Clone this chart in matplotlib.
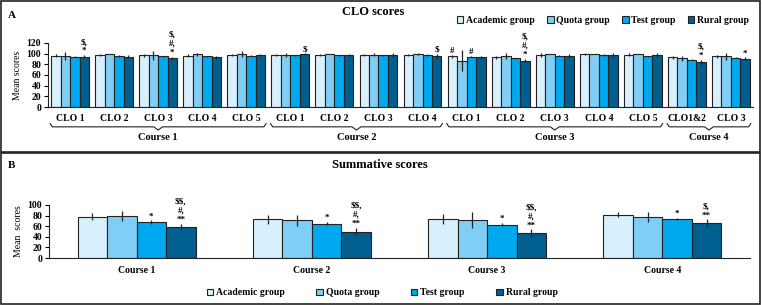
import numpy as np
import matplotlib.pyplot as plt
from matplotlib.patches import Rectangle
from matplotlib.transforms import blended_transform_factory

plt.rcParams['font.family'] = 'Liberation Serif'
plt.rcParams['font.weight'] = 'bold'
plt.rcParams['text.parse_math'] = False

groups = ['Academic group', 'Quota group', 'Test group', 'Rural group']
colors = ['#d8effd', '#80cdf5', '#00a8ef', '#005f8e']

# panel A: CLO scores
clo_labels = ['CLO 1', 'CLO 2', 'CLO 3', 'CLO 4', 'CLO 5',
              'CLO 1', 'CLO 2', 'CLO 3', 'CLO 4',
              'CLO 1', 'CLO 2', 'CLO 3', 'CLO 4', 'CLO 5',
              'CLO1&2', 'CLO 3']
courses_a = ['Course 1', 'Course 2', 'Course 3', 'Course 4']
course_sizes = [5, 4, 5, 2]
clo_academic = [96, 98, 97, 96, 97, 97, 98, 98, 98, 95, 93, 97.5, 99, 98, 93, 95]
clo_quota = [96, 100, 97, 99, 99, 98, 100, 98, 99, 87, 96, 100, 100, 100, 91, 95]
clo_test = [94, 95, 95, 95, 96, 97, 97, 97, 97.5, 94, 91, 96, 97.5, 95.5, 89, 92]
clo_rural = [94, 94, 91, 93, 97, 99, 97, 97, 95, 93, 87, 96, 97.5, 97.5, 84, 90]
clo_academic_err = [3, 2, 3, 3, 2, 2, 2, 2, 2, 3, 3, 3, 2, 3, 3, 3]
clo_quota_err = [7, 0, 8, 3, 6, 4, 0, 3, 2, 20, 6, 0, 0, 0, 5, 7]
clo_test_err = [1, 2, 1, 1, 1, 1, 1, 1, 1, 1, 1, 1, 1, 1, 1, 1]
clo_rural_err = [3, 3, 3, 3, 2, 2, 2, 4, 5, 3, 3, 4, 3, 3, 5, 3]
# (group index, series index, text)
clo_notes = [(0, 3, '$,\n*'), (2, 3, '$,\n#,\n*'), (5, 3, '$'), (8, 3, '$'),
             (9, 0, '#'), (9, 2, '#'), (10, 3, '$,\n#,\n*'),
             (14, 3, '$,\n*'), (15, 3, '*')]

# panel B: summative scores
courses_b = ['Course 1', 'Course 2', 'Course 3', 'Course 4']
sum_academic = [78, 73, 74, 82]
sum_quota = [79, 71, 71, 77]
sum_test = [68, 65, 63, 73]
sum_rural = [59, 50, 47, 66]
sum_academic_err = [6, 8, 9, 5]
sum_quota_err = [10, 11, 15, 9]
sum_test_err = [3, 3, 3, 2]
sum_rural_err = [6, 7, 7, 7]
sum_notes = [(0, 2, '*'), (1, 2, '*'), (2, 2, '*'), (3, 2, '*'),
             (0, 3, '$$,\n#,\n**'), (1, 3, '$$,\n#,\n**'), (2, 3, '$$,\n#,\n**'),
             (3, 3, '$,\n**')]

W, H = 762, 305
fig = plt.figure(figsize=(W / 100, H / 100), dpi=100)


def px(x0, y0, x1, y1):
    return [x0 / W, 1 - y1 / H, (x1 - x0) / W, (y1 - y0) / H]


def draw_bars(ax, values, errors, width, notes, note_size):
    n = len(values[0])
    x = np.arange(n)
    tops = []
    for k in range(4):
        pos = x + (k - 1.5) * width
        ax.bar(pos, values[k], width, color=colors[k], edgecolor='#222222',
               linewidth=0.8, label=groups[k], zorder=2)
        ax.errorbar(pos, values[k], yerr=errors[k], fmt='none', ecolor='#222222',
                    elinewidth=0.9, capsize=0, zorder=3)
        tops.append(np.array(values[k]) + np.array(errors[k]))
    for g, s, txt in notes:
        ax.text(g + (s - 1.5) * width, tops[s][g], txt, ha='center', va='bottom',
                fontsize=note_size, linespacing=1.2, clip_on=False)
    return x


def style_axis(ax, ylim, step):
    ax.set_ylim(0, ylim)
    ax.set_yticks(np.arange(0, ylim + 1, step))
    for s in ['top', 'right']:
        ax.spines[s].set_visible(False)
    ax.spines['left'].set_color('#222222')
    ax.spines['bottom'].set_color('#222222')
    ax.tick_params(axis='y', labelsize=7, length=3, width=0.8, pad=2)
    ax.tick_params(axis='x', length=0, labelsize=7, pad=6)


# frames
fig.patches.append(Rectangle((1 / W, 1 - 152 / H), 759 / W, 151 / H, transform=fig.transFigure,
                             fill=False, edgecolor='#222222', linewidth=1.2))
fig.patches.append(Rectangle((1 / W, 1 / H), 759 / W, 151 / H, transform=fig.transFigure,
                             fill=False, edgecolor='#222222', linewidth=1.2))

# ---- panel A
axA = fig.add_axes(px(48, 43, 753, 107))
xa = draw_bars(axA, [clo_academic, clo_quota, clo_test, clo_rural],
               [clo_academic_err, clo_quota_err, clo_test_err, clo_rural_err],
               0.215, clo_notes, 6.5)
style_axis(axA, 120, 20)
axA.tick_params(axis='x', pad=5)
axA.set_xlim(-0.5, len(clo_labels) - 0.5)
axA.set_xticks(xa)
axA.set_xticklabels(clo_labels)
axA.set_ylabel('Mean scores', fontsize=7, labelpad=3)
axA.legend(loc='lower right', bbox_to_anchor=(1.0, 1.22), ncol=4, frameon=False,
           fontsize=7, handlelength=0.7, handleheight=0.7, handletextpad=0.3,
           columnspacing=1.2, borderaxespad=0)

# course braces
tr = blended_transform_factory(axA.transData, axA.transAxes)
start = 0
for name, size in zip(courses_a, course_sizes):
    x0, x1 = start - 0.45, start + size - 1 + 0.45
    xm = (x0 + x1) / 2
    yb = -0.31
    axA.plot([x0, x0 + 0.05, xm - 0.1, xm, xm + 0.1, x1 - 0.05, x1],
             [yb + 0.05, yb, yb, yb - 0.05, yb, yb, yb + 0.05],
             color='#222222', lw=0.8, transform=tr, clip_on=False)
    axA.text(xm, -0.40, name, transform=tr, ha='center', va='top', fontsize=7.5)
    start += size

fig.text(373 / W, 1 - 12 / H, 'CLO scores', ha='center', va='center', fontsize=9)
fig.text(12 / W, 1 - 16 / H, 'A', ha='center', va='center', fontsize=8)

# ---- panel B
axB = fig.add_axes(px(49, 205, 750, 258))
xb = draw_bars(axB, [sum_academic, sum_quota, sum_test, sum_rural],
               [sum_academic_err, sum_quota_err, sum_test_err, sum_rural_err],
               0.168, sum_notes, 6.5)
style_axis(axB, 100, 20)
axB.set_xlim(-0.5, len(courses_b) - 0.5)
axB.set_xticks(xb)
axB.set_xticklabels(courses_b)
axB.set_ylabel('Mean  scores', fontsize=7, labelpad=3)
axB.legend(loc='upper center', bbox_to_anchor=(0.475, -0.5), ncol=4, frameon=False,
           fontsize=7, handlelength=0.7, handleheight=0.7, handletextpad=0.3,
           columnspacing=3.2, borderaxespad=0)

fig.text(380 / W, 1 - 165 / H, 'Summative scores', ha='center', va='center', fontsize=9)
fig.text(12 / W, 1 - 165 / H, 'B', ha='center', va='center', fontsize=8)

fig.savefig('out.png', dpi=100)
